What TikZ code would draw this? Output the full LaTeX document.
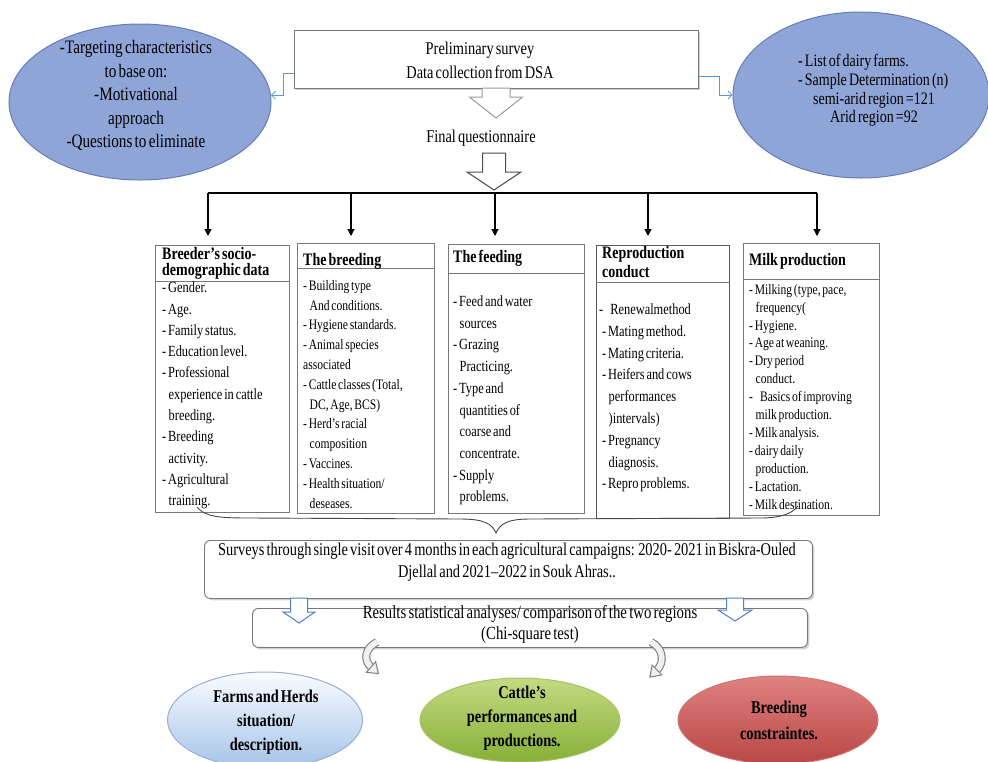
\documentclass[tikz,border=0pt]{standalone}
\usepackage{fontspec}
\setmainfont{Liberation Serif}[FakeStretch=0.8, WordSpace=0.6]
\usetikzlibrary{shapes.geometric, arrows.meta, shadows}
\definecolor{ellfill}{RGB}{143,165,215}
\definecolor{ellborder}{RGB}{100,125,182}
\definecolor{boxgray}{RGB}{120,120,120}
\definecolor{connblue}{RGB}{91,155,213}
\definecolor{arrblue}{RGB}{79,129,189}
\definecolor{curvgray}{RGB}{125,125,125}
\definecolor{curvfill}{RGB}{240,240,240}
\definecolor{bracegray}{RGB}{70,70,70}
\definecolor{lbtop}{RGB}{250,252,255}
\definecolor{lbbot}{RGB}{165,195,232}
\definecolor{lbborder}{RGB}{150,175,210}
\definecolor{grtop}{RGB}{195,218,130}
\definecolor{grbot}{RGB}{135,175,55}
\definecolor{grborder}{RGB}{165,195,105}
\definecolor{rdtop}{RGB}{222,130,128}
\definecolor{rdbot}{RGB}{185,70,68}
\definecolor{rdborder}{RGB}{205,115,112}
\newcommand{\myind}{\hspace*{6.5pt}}
\newcommand{\firstln}{\rule{0pt}{11pt}}
\newcommand{\hollowdown}[7]{% cx, top, shaft hw, shaft bottom, head hw, tip, color
  \draw[draw=#7, fill=white, line width=1pt, line join=miter]
    ({#1-#3},#2) -- ({#1-#3},#4) -- ({#1-#5},#4) -- (#1,#6) -- ({#1+#5},#4)
    -- ({#1+#3},#4) -- ({#1+#3},#2) -- cycle;}
\begin{document}
\begin{tikzpicture}[x=1pt,y=-1pt,
  ellblue/.style={ellipse, draw=ellborder, fill=ellfill, line width=1pt, inner sep=0pt},
  box/.style={draw=boxgray, line width=0.9pt, fill=white, inner sep=0pt, anchor=north west},
  body/.style={inner sep=0pt, anchor=north west, align=left},
  hdr/.style={inner sep=0pt, anchor=north west, align=left},
  sepline/.style={draw=boxgray, line width=0.9pt},
  blueconn/.style={draw=connblue, line width=0.8pt, -{Straight Barb[length=4pt,width=8pt]}},
  busarrow/.style={line width=1.1pt, -{Triangle[length=7pt,width=7pt]}},
  shadowbox/.style={draw=boxgray, fill=white, line width=0.9pt, inner sep=0pt, anchor=north west,
    drop shadow={shadow xshift=2pt, shadow yshift=-2pt, opacity=0.3, fill=black!60}},
  curvband/.style={line width=8pt, draw=curvgray},
  curvin/.style={line width=5.8pt, draw=curvfill},
  curvhead/.style={draw=curvgray, fill=curvfill, line width=1pt, line join=miter}
]
\useasboundingbox (0,0) rectangle (988,761);

% ---------- top ellipses ----------
\node[ellblue, minimum width=262pt, minimum height=156pt] (eL) at (140,102) {};
\node[inner sep=0pt, anchor=north, align=center, font=\fontsize{19}{23.5}\selectfont] (eLt) at (136,37)
  {\strut -Targeting  characteristics\\to base on:\\-Motivational\\approach\\-Questions to eliminate};
\node[ellblue, minimum width=256pt, minimum height=166pt] (eR) at (861,95) {};
\node[inner sep=0pt, anchor=north west, align=left, font=\fontsize{17.5}{18.7}\selectfont] (eRt1) at (798,53.7)
  {\strut - List of dairy farms.\\- Sample  Determination (n)};
\node[inner sep=0pt, anchor=north, align=center, font=\fontsize{17.5}{18.7}\selectfont] (eRt2) at (874,91)
  {\strut semi-arid region =121\\Arid region =92};

% ---------- top box ----------
\node[shadowbox, minimum width=404pt, minimum height=58pt] (pbox) at (294,30) {};
\node[inner sep=0pt, anchor=north, align=center, font=\fontsize{18}{24}\selectfont] (pboxt) at (480,37)
  {\strut Preliminary survey\\Data collection from DSA};
\draw[blueconn] ([yshift=-14pt]pbox.west) -- ++(-11,0) |- (eL.3);
\draw[blueconn] ([yshift=-17pt]pbox.east) -- ++(20,0) |- (eR.west);

\hollowdown{496}{88}{14}{97}{26.5}{118}{black!40}
\node[inner sep=0pt, anchor=base, font=\fontsize{18}{22}\selectfont] (fq) at (481,142) {Final questionnaire};
\hollowdown{494}{153}{11.5}{172}{27}{190}{black!70}

% ---------- bus ----------
\coordinate (busL) at (208,193);
\coordinate (busR) at (817,193);
\draw[line width=1.1pt] (busL) -- (busR);
\foreach \x/\n in {208/1,351/2,495/3,648/4,817/5}{
  \coordinate (bs\n) at (\x,193);
  \coordinate (bt\n) at (\x,236);
  \draw[busarrow] (bs\n) -- (bt\n);
}

% ---------- five boxes ----------
\node[box, minimum width=134pt, minimum height=267pt] (b1) at (155,245) {};
\draw[sepline] (b1.west |- 0,281) -- (b1.east |- 0,281);
\node[hdr, font=\bfseries\fontsize{17.5}{16}\selectfont] (h1) at (162,246)
  {\rule{0pt}{13pt}Breeder’s socio-\\demographic data};
\node[body, font=\fontsize{15.5}{21.3}\selectfont] (t1) at (162,281.5)
  {\firstln - Gender.\\- Age.\\- Family status.\\- Education level.\\- Professional\\\myind experience in  cattle\\\myind breeding.\\- Breeding\\\myind activity.\\- Agricultural\\\myind training.};

\node[box, minimum width=137pt, minimum height=270pt] (b2) at (297,243) {};
\draw[sepline] (b2.west |- 0,268) -- (b2.east |- 0,268);
\node[hdr, font=\bfseries\fontsize{17.5}{15}\selectfont] (h2) at (303,252)
  {\rule{0pt}{13pt}The breeding};
\node[body, font=\fontsize{14.5}{19.8}\selectfont] (t2) at (303,279)
  {\firstln - Building type\\\myind And conditions.\\- Hygiene  standards.\\- Animal species\\associated\\- Cattle classes  (Total,\\\myind DC,  Age, BCS)\\- Herd’s racial\\\myind composition\\- Vaccines.\\- Health  situation/\\\myind deseases.};

\node[box, minimum width=136pt, minimum height=269pt] (b3) at (448,244) {};
\draw[sepline] (b3.west |- 0,273) -- (b3.east |- 0,273);
\node[hdr, font=\bfseries\fontsize{17.5}{15}\selectfont] (h3) at (453,249)
  {\rule{0pt}{13pt}The feeding};
\node[body, font=\fontsize{15.5}{21.7}\selectfont] (t3) at (453,295.3)
  {\firstln - Feed and  water\\\myind sources\\- Grazing\\\myind Practicing.\\- Type and\\\myind quantities of\\\myind coarse and\\\myind concentrate.\\- Supply\\\myind problems.};

\node[box, minimum width=133pt, minimum height=273pt, draw=black!65] (b4) at (596,245) {};
\draw[sepline] (b4.west |- 0,282) -- (b4.east |- 0,282);
\node[hdr, font=\bfseries\fontsize{17.5}{19}\selectfont] (h4) at (602,245)
  {\rule{0pt}{13pt}Reproduction\\conduct};
\node[body, font=\fontsize{15.5}{21.8}\selectfont] (t4) at (599,303.3)
  {\firstln -\hspace*{7pt}Renewalmethod\\\hspace*{3pt}- Mating method.\\\hspace*{3pt}- Mating criteria.\\\hspace*{3pt}- Heifers and  cows\\\hspace*{3pt}\myind performances\\\hspace*{3pt}\myind )intervals)\\\hspace*{3pt}- Pregnancy\\\hspace*{3pt}\myind diagnosis.\\\hspace*{3pt}- Repro problems.};

\node[box, minimum width=136pt, minimum height=272pt] (b5) at (743,243) {};
\draw[sepline] (b5.west |- 0,279) -- (b5.east |- 0,279);
\node[hdr, font=\bfseries\fontsize{17.5}{15}\selectfont] (h5) at (749,252)
  {\rule{0pt}{13pt}Milk production};
\node[body, font=\fontsize{14.5}{17.9}\selectfont] (t5) at (749,283)
  {\firstln - Milking (type,  pace,\\\myind frequency(\\- Hygiene.\\- Age at weaning.\\- Dry period\\\myind conduct.\\-\hspace*{7pt}Basics of  improving\\\myind milk  production.\\- Milk analysis.\\- dairy daily\\\myind production.\\- Lactation.\\- Milk  destination.};

% ---------- brace ----------
\draw[bracegray, line width=0.9pt] (197,507) .. controls (205,517) and (220,518) .. (250,518)
  -- (460,519) .. controls (485,519) and (492,524) .. (496,533)
  .. controls (500,524) and (507,519) .. (530,519)
  -- (760,518) .. controls (780,518) and (792,514) .. (798,506);

% ---------- surveys box ----------
\node[shadowbox, rounded corners=6pt, minimum width=608pt, minimum height=58pt] (sv) at (204,540) {};
\node[inner sep=0pt, anchor=north, align=center, font=\fontsize{18}{22}\selectfont] (svt) at (507,543)
  {\rule{0pt}{12pt}Surveys through single visit over 4 months in each agricultural campaigns: 2020-  2021 in Biskra-Ouled\\Djellal and 2021–2022 in Souk Ahras..};

% ---------- results box ----------
\node[shadowbox, rounded corners=6pt, minimum width=555pt, minimum height=39pt] (rs) at (252,608) {};
\node[inner sep=0pt, anchor=north, align=center, font=\fontsize{18.5}{21}\selectfont] (rst) at (530,605)
  {\rule{0pt}{12pt}Results statistical  analyses/ comparison of the two regions\\(Chi-square test)};
\hollowdown{299}{598}{8.5}{612}{16}{623}{arrblue}
\hollowdown{735}{598}{8.5}{610}{17}{621}{arrblue}

% ---------- curved arrows ----------
\draw[curvband] (377,642) .. controls (365,648) and (363,660) .. (371,667);
\draw[curvin] (377,642) .. controls (365,648) and (363,660) .. (371,667);
\draw[curvhead] (375.6,661.7) -- (378.5,673.6) -- (366.4,672.3) -- cycle;
\draw[curvband] (651,642) .. controls (663,648) and (665,662) .. (657,670);
\draw[curvin] (651,642) .. controls (663,648) and (665,662) .. (657,670);
\draw[curvhead] (661.9,674.9) -- (649.9,677.1) -- (652.1,665.1) -- cycle;

% ---------- bottom ellipses ----------
\node[ellipse, inner sep=0pt, minimum width=195pt, minimum height=96pt, draw=lbborder, line width=1pt,
  top color=lbtop, bottom color=lbbot] (f1) at (265,720) {};
\node[inner sep=0pt, anchor=north, align=center, font=\bfseries\fontsize{18}{24}\selectfont] (f1t) at (266,685)
  {\strut Farms and  Herds\\situation/\\description.};
\node[ellipse, inner sep=0pt, minimum width=200pt, minimum height=84pt, draw=grborder, line width=1pt,
  top color=grtop, bottom color=grbot] (f2) at (520,720) {};
\node[inner sep=0pt, anchor=north, align=center, font=\bfseries\fontsize{18}{24}\selectfont] (f2t) at (522,681)
  {\strut Cattle's\\performances and\\productions.};
\node[ellipse, inner sep=0pt, minimum width=200pt, minimum height=88pt, draw=rdborder, line width=1pt,
  top color=rdtop, bottom color=rdbot] (f3) at (778,720) {};
\node[inner sep=0pt, anchor=north, align=center, font=\bfseries\fontsize{18}{26}\selectfont] (f3t) at (779,695)
  {\strut Breeding\\constraintes.};
\end{tikzpicture}
\end{document}
